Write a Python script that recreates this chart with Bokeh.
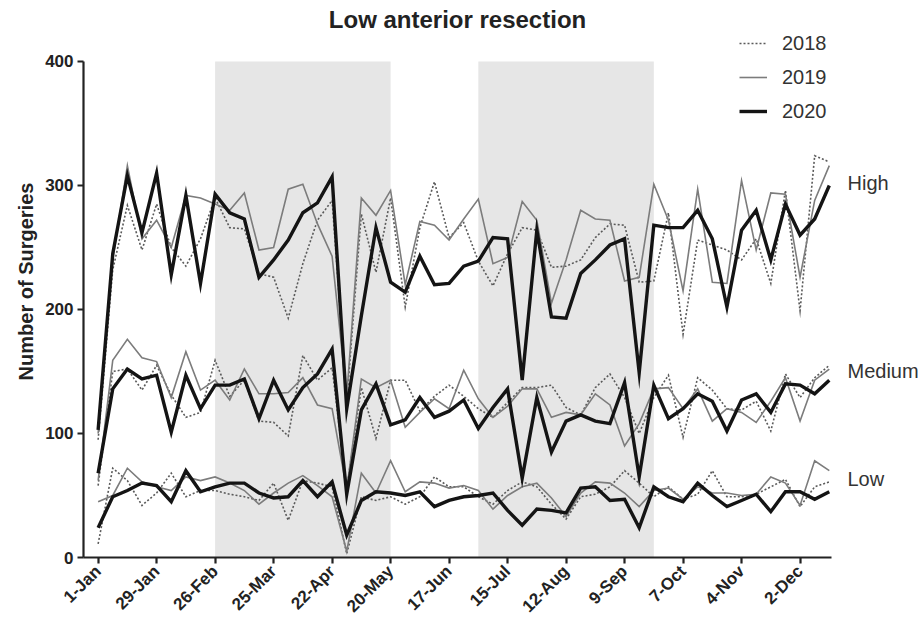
import math
from bokeh.plotting import figure
from bokeh.models import (Label, Legend, LegendItem, FixedTicker, BoxAnnotation,
                          ColumnDataSource)
from bokeh.embed import file_html
from bokeh.resources import INLINE

# ---------------- data ----------------
weeks = list(range(51))
tick_weeks = [0, 4, 8, 12, 16, 20, 24, 28, 32, 36, 40, 44, 48]
tick_labels = ["1-Jan", "29-Jan", "26-Feb", "25-Mar", "22-Apr", "20-May", "17-Jun",
               "15-Jul", "12-Aug", "9-Sep", "7-Oct", "4-Nov", "2-Dec"]
y_ticks = [0, 100, 200, 300, 400]
shade_periods = [(8, 20), (26, 38)]
years = ["2018", "2019", "2020"]

high_2018 = [95, 232, 284, 248, 285, 250, 235, 257, 290, 266, 265, 229, 226, 193, 237, 272, 288,
             125, 277, 230, 290, 202, 266, 303, 258, 270, 239, 219, 245, 266, 264, 234, 235, 240,
             258, 269, 268, 222, 223, 278, 180, 256, 252, 248, 240, 257, 221, 296, 199, 324, 319]
high_2019 = [100, 240, 316, 257, 272, 250, 292, 290, 285, 280, 294, 248, 250, 297, 301, 269, 243,
             130, 290, 276, 296, 220, 271, 268, 256, 273, 289, 237, 242, 287, 272, 205, 240, 280,
             273, 272, 223, 226, 301, 272, 215, 297, 222, 221, 304, 248, 294, 293, 226, 288, 316]
high_2020 = [103, 245, 308, 262, 310, 228, 292, 221, 293, 278, 273, 226, 240, 256, 278, 286, 307,
             120, 195, 266, 222, 214, 243, 220, 221, 235, 239, 258, 257, 143, 264, 194, 193, 229,
             240, 252, 257, 149, 268, 266, 266, 280, 257, 202, 264, 280, 240, 285, 260, 273, 300]

medium_2018 = [58, 150, 152, 135, 155, 131, 113, 117, 159, 130, 143, 110, 109, 98, 163, 143, 153,
               55, 137, 96, 143, 143, 118, 130, 139, 130, 120, 113, 125, 137, 137, 139, 121, 115,
               137, 148, 129, 100, 129, 147, 97, 145, 135, 120, 119, 126, 102, 148, 129, 145, 155]
medium_2019 = [62, 159, 176, 161, 158, 129, 166, 135, 143, 127, 152, 132, 132, 133, 145, 123, 120,
               55, 144, 137, 143, 105, 117, 128, 120, 151, 128, 113, 122, 136, 136, 113, 117, 115,
               132, 123, 90, 108, 136, 137, 120, 136, 110, 120, 117, 109, 126, 145, 110, 143, 152]
medium_2020 = [68, 136, 152, 144, 147, 101, 147, 120, 139, 139, 144, 112, 143, 119, 137, 148, 168,
               51, 119, 140, 107, 111, 129, 113, 118, 127, 104, 121, 136, 64, 129, 85, 110, 115,
               110, 108, 141, 65, 139, 112, 120, 132, 126, 102, 127, 132, 117, 140, 139, 132, 143]

low_2018 = [11, 72, 62, 42, 52, 68, 49, 54, 54, 51, 49, 46, 60, 30, 62, 60, 57,
            3, 49, 46, 49, 43, 49, 65, 57, 57, 49, 43, 54, 61, 57, 43, 31, 49,
            51, 57, 70, 60, 49, 57, 47, 51, 70, 49, 49, 51, 57, 63, 41, 57, 61]
low_2019 = [45, 50, 72, 61, 57, 54, 65, 62, 65, 60, 54, 43, 52, 60, 66, 58, 49,
            5, 68, 52, 78, 53, 61, 60, 56, 58, 54, 39, 50, 57, 60, 48, 33, 52,
            61, 60, 52, 41, 54, 56, 47, 57, 52, 52, 50, 51, 65, 60, 42, 78, 70]
low_2020 = [24, 49, 54, 60, 58, 45, 70, 53, 57, 60, 60, 52, 48, 49, 62, 49, 61,
            18, 46, 53, 52, 50, 53, 41, 46, 49, 50, 52, 38, 26, 39, 38, 36, 56,
            57, 46, 47, 24, 57, 49, 45, 60, 50, 41, 46, 51, 37, 53, 53, 47, 53]

categories = ["High", "Medium", "Low"]

src = ColumnDataSource(dict(
    week=weeks,
    High_2018=high_2018, High_2019=high_2019, High_2020=high_2020,
    Medium_2018=medium_2018, Medium_2019=medium_2019, Medium_2020=medium_2020,
    Low_2018=low_2018, Low_2019=low_2019, Low_2020=low_2020,
))

# ---------------- styles / layout ----------------
FONT = "Liberation Sans"
TEXT = "#222222"
year_style = {
    "2018": dict(line_color="#5a5a5a", line_width=1.6, line_dash="2 2"),
    "2019": dict(line_color="#7c7c7c", line_width=1.6, line_dash="solid"),
    "2020": dict(line_color="#141414", line_width=3.4, line_dash="solid"),
}
# screen positions (relative to plot frame, bottom-left origin) for free texts
title_pos = (374, 538)
category_label_pos = {"High": (764, 375), "Medium": (764, 187), "Low": (764, 79)}

# frame extends above the y-axis top and right of the x-axis end so texts are not clipped
X_MIN, X_AXIS_END, X_FRAME_END = -1, 50.15, 56.1
Y_AXIS_END, Y_FRAME_END = 400, 445.16

p = figure(width=920, height=626, output_backend="svg", toolbar_location=None,
           x_range=(X_MIN, X_FRAME_END), y_range=(0, Y_FRAME_END),
           min_border_left=83, min_border_right=2, min_border_top=5, min_border_bottom=69)
p.outline_line_color = None
p.xgrid.visible = False
p.ygrid.visible = False
p.background_fill_color = "white"

for a, b in shade_periods:
    p.add_layout(BoxAnnotation(left=a, right=b, bottom=0, top=Y_AXIS_END, fill_color="#e6e6e6",
                               fill_alpha=1.0, line_alpha=0, level="underlay"))

legend_renderers = {}
for yr in years:
    for cat in categories:
        r = p.line("week", f"{cat}_{yr}", source=src, line_join="miter", **year_style[yr])
        legend_renderers.setdefault(yr, r)

# axes
p.xaxis.ticker = FixedTicker(ticks=tick_weeks)
p.xaxis.major_label_overrides = {w: l for w, l in zip(tick_weeks, tick_labels)}
p.xaxis.major_label_orientation = math.pi / 4
p.xaxis.bounds = (X_MIN, X_AXIS_END)
p.yaxis.ticker = FixedTicker(ticks=y_ticks)
p.yaxis.bounds = (0, Y_AXIS_END)
for ax in (p.xaxis[0], p.yaxis[0]):
    ax.axis_line_width = 2.2
    ax.axis_line_color = TEXT
    ax.major_tick_line_width = 2.2
    ax.major_tick_line_color = TEXT
    ax.major_tick_out = 6
    ax.major_tick_in = 0
    ax.minor_tick_out = 0
    ax.minor_tick_in = 0
    ax.major_label_text_font = FONT
    ax.major_label_text_font_style = "bold"
    ax.major_label_text_color = TEXT
    ax.major_label_text_font_size = "17px"
p.xaxis.major_label_standoff = 5
p.yaxis.major_label_standoff = 4
p.yaxis.axis_label = "Number of Surgeries"
p.yaxis.axis_label_text_font = FONT
p.yaxis.axis_label_text_font_style = "bold"
p.yaxis.axis_label_text_font_size = "20px"
p.yaxis.axis_label_text_color = TEXT
p.yaxis.axis_label_standoff = 5

# title
p.add_layout(Label(x=title_pos[0], y=title_pos[1], x_units="screen", y_units="screen",
                   text="Low anterior resection", text_font=FONT, text_font_style="bold",
                   text_font_size="24px", text_align="center", text_baseline="middle",
                   text_color=TEXT))

# category labels
for cat in categories:
    cx, cy = category_label_pos[cat]
    p.add_layout(Label(x=cx, y=cy, x_units="screen", y_units="screen", text=cat,
                       text_font=FONT, text_font_size="20px", text_align="left",
                       text_baseline="middle", text_color="#333333"))

legend = Legend(items=[LegendItem(label=yr, renderers=[legend_renderers[yr]]) for yr in years],
                location=(656, 434))
legend.background_fill_alpha = 0
legend.border_line_alpha = 0
legend.padding = 0
legend.margin = 0
legend.spacing = 10
legend.label_height = 24
legend.glyph_height = 24
legend.glyph_width = 28
legend.label_standoff = 15
legend.label_text_font = FONT
legend.label_text_font_size = "20px"
legend.label_text_color = "#333333"
p.add_layout(legend)

open("out.html", "w").write(file_html(p, INLINE))
